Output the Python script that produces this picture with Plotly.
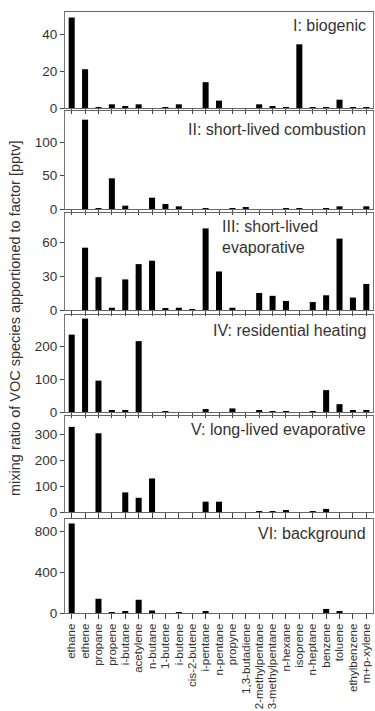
import plotly.graph_objects as go

species = ["ethane", "ethene", "propane", "propene", "i-butane", "acetylene", "n-butane",
           "1-butene", "i-butene", "cis-2-butene", "i-pentane", "n-pentane", "propyne",
           "1,3-butadiene", "2-methylpentane", "3-methylpentane", "n-hexane", "isoprene",
           "n-heptane", "benzene", "toluene", "ethylbenzene", "m+p-xylene"]

biogenic = [49, 21, 0.3, 2, 1, 2, 0, 0.3, 2, 0, 14, 4, 0, 0, 2, 1, 0.5, 34.5, 0.5, 0.5, 4.5, 0.5, 0.3]
sl_combustion = [0, 134, 1, 46, 5, 0, 17, 7.5, 4, 0, 0.5, 0, 1, 3, 0, 0, 1, 1, 0, 1, 4, 0, 4]
sl_evaporative = [0, 55, 29, 2, 27, 40.5, 43.5, 1, 2, 0.5, 72, 34, 2, 0, 15, 12.5, 8, 0, 7, 13, 63, 11, 23]
residential = [237, 286, 96, 5, 5, 217, 0, 2, 0, 0, 9, 0, 11, 0, 5, 3, 2, 0, 1, 67, 24, 5, 5]
ll_evaporative = [330, 0, 305, 0, 76, 55, 130, 0, 0, 0, 40, 40, 0, 0, 3, 2, 5, 0, 2, 12, 0, 0, 0]
background = [880, 0, 140, 5, 15, 130, 25, 0, 5, 0, 12, 0, 0, 0, 0, 0, 0, 0, 0, 40, 15, 0, 0]

panel_labels = ["I: biogenic", "II: short-lived combustion", "III: short-lived<br>evaporative",
                "IV: residential heating", "V: long-lived evaporative", "VI: background"]
y_ticks = [[0, 20, 40], [0, 50, 100], [0, 30, 60], [0, 100, 200], [0, 100, 200, 300], [0, 400, 800]]
y_max = [52, 147, 85.6, 297, 372, 924]

series = [biogenic, sl_combustion, sl_evaporative, residential, ll_evaporative, background]

W, H = 375, 711
ML, MR, MT, MB = 65, 2, 12, 98
PH = H - MT - MB
PW = W - ML - MR
# panel pixel extents (top, bottom)
panels_px = [(12, 108), (111, 209), (213, 310), (315, 412), (416, 512), (519, 613)]

def yf(y):
    return (H - MB - y) / PH

FONT = "Liberation Sans, Arial, sans-serif"
fig = go.Figure()
layout = {}
for i, vals in enumerate(series):
    n = i + 1
    xa = "x" if n == 1 else f"x{n}"
    ya = "y" if n == 1 else f"y{n}"
    fig.add_trace(go.Bar(x=species, y=vals, xaxis=xa, yaxis=ya, marker_color="black",
                         marker_line_width=0, width=0.45, showlegend=False))
    top, bot = panels_px[i]
    xkey = "xaxis" if n == 1 else f"xaxis{n}"
    ykey = "yaxis" if n == 1 else f"yaxis{n}"
    layout[xkey] = dict(domain=[0, 1], anchor=ya, type="category", range=[-0.5, 22.5],
                        tickmode="array", tickvals=species, ticktext=species,
                        showline=True, linecolor="#666", linewidth=1, mirror=True,
                        ticks="outside", ticklen=5, tickcolor="#444",
                        showticklabels=(n == 6), tickangle=-90,
                        tickfont=dict(family=FONT, size=11.5, color="#333"),
                        showgrid=False, zeroline=False, categoryorder="array",
                        categoryarray=species)
    layout[ykey] = dict(domain=[yf(bot), yf(top)], anchor=xa, range=[0, y_max[i]],
                        tickvals=y_ticks[i], showline=True, linecolor="#777", linewidth=1,
                        mirror=True, ticks="outside", ticklen=4, tickcolor="#444",
                        tickfont=dict(family=FONT, size=13.5, color="#333"),
                        showgrid=False, zeroline=False)

annotations = []
label_pos = [(368, 26, "right"), (368, 129, "right"), (220, 237, "left"),
             (368, 330, "right"), (368, 429, "right"), (368, 533, "right")]
for (px, py, anc), text in zip(label_pos, panel_labels):
    annotations.append(dict(xref="paper", yref="paper", x=(px - ML) / PW, y=yf(py),
                            text=text, showarrow=False, xanchor=anc, yanchor="middle",
                            align="left", font=dict(family=FONT, size=16, color="#333")))
annotations.append(dict(xref="paper", yref="paper", x=(15 - ML) / PW, y=yf(319),
                        text="mixing ratio of VOC species apportioned to factor [pptv]",
                        showarrow=False, textangle=-90, xanchor="center", yanchor="middle",
                        font=dict(family=FONT, size=14.5, color="#333")))

fig.update_layout(width=W, height=H, margin=dict(l=ML, r=MR, t=MT, b=MB, autoexpand=False),
                  paper_bgcolor="white", plot_bgcolor="white", bargap=0.55,
                  annotations=annotations, **layout)
fig.write_html("out.html", config={"displayModeBar": False},
               post_script="document.body.style.margin='0';document.body.style.overflow='hidden';")
